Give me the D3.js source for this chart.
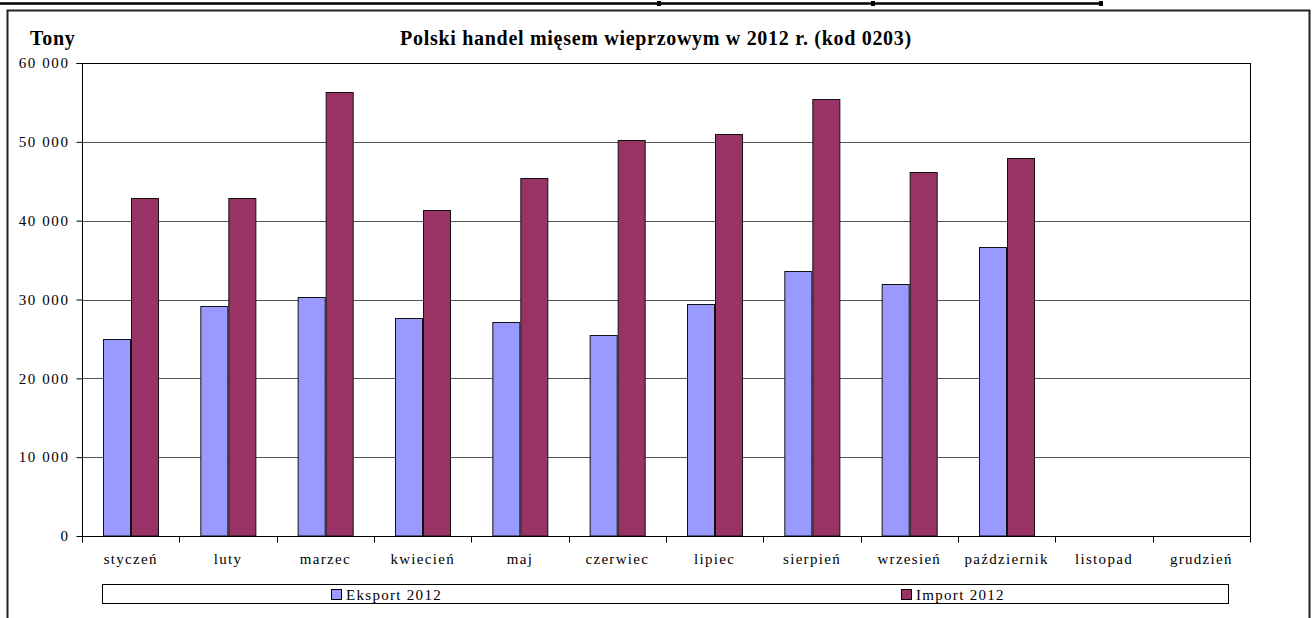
<!DOCTYPE html>
<html><head><meta charset="utf-8">
<script src="https://cdn.jsdelivr.net/npm/d3@7"></script>
<style>body{margin:0;background:#fff}svg{display:block}svg text{font-family:'Liberation Serif','Times New Roman',serif}</style>
</head><body>
<script>
const months = ["styczeń","luty","marzec","kwiecień","maj","czerwiec","lipiec","sierpień","wrzesień","październik","listopad","grudzień"];
const eksport = [25000, 29200, 30350, 27700, 27150, 25500, 29400, 33600, 32000, 36600, null, null];
const importV = [42900, 42900, 56350, 41400, 45400, 50250, 50950, 55400, 46200, 48000, null, null];
const seriesNames = ["Eksport 2012", "Import 2012"];
const seriesColors = ["#9999FF", "#993366"];
const yTicks = [0, 10000, 20000, 30000, 40000, 50000, 60000];
const title = "Polski handel mięsem wieprzowym w 2012 r. (kod 0203)";
const yTitle = "Tony";

const W = 1312, H = 618;
const FF = "'Liberation Serif','Times New Roman',serif";
const svg = d3.select("body").append("svg").attr("width", W).attr("height", H);

// decorative top line
svg.append("line").attr("x1", 0).attr("x2", 1102).attr("y1", 3.5).attr("y2", 3.5)
  .attr("stroke", "#000").attr("stroke-width", 2.5);
[659, 873, 1101].forEach(x => svg.append("rect").attr("x", x - 2).attr("y", 1).attr("width", 4).attr("height", 5).attr("fill", "#000"));

// outer chart frame
svg.append("path").attr("d", `M7.5,${H+2} V10.5 H1309.5 V${H+2}`)
  .attr("fill", "none").attr("stroke", "#222").attr("stroke-width", 2);

const m = {l: 82, r: 1250, t: 63, b: 536};
const x = d3.scaleBand().domain(months).range([m.l, m.r]).paddingInner(0).paddingOuter(0);
const xs = d3.scaleBand().domain(seriesNames).range([0, x.bandwidth()]).paddingInner(0).paddingOuter(0.77);
const y = d3.scaleLinear().domain([0, 60000]).range([m.b, m.t]);

// gridlines
svg.append("g").selectAll("line").data(yTicks.filter(d => d > 0)).join("line")
  .attr("x1", m.l).attr("x2", m.r)
  .attr("y1", d => Math.round(y(d)) + 0.5).attr("y2", d => Math.round(y(d)) + 0.5)
  .attr("stroke", d => d === 60000 ? "#000" : "#555").attr("stroke-width", 1);

// plot frame right
svg.append("line").attr("x1", m.r + 0.5).attr("x2", m.r + 0.5).attr("y1", m.t).attr("y2", m.b)
  .attr("stroke", "#000");

// bars
const data = months.map((mo, i) => ({mo, vals: [eksport[i], importV[i]]}));
const grp = svg.append("g").selectAll("g").data(data).join("g")
  .attr("transform", d => `translate(${x(d.mo)},0)`);
grp.selectAll("rect").data(d => d.vals.map((v, j) => ({v, s: seriesNames[j], c: seriesColors[j]})).filter(e => e.v != null))
  .join("rect")
  .attr("x", e => Math.round(xs(e.s)) + 0.5)
  .attr("width", Math.round(xs.bandwidth()))
  .attr("y", e => Math.round(y(e.v)) + 0.5)
  .attr("height", e => m.b - Math.round(y(e.v)) - 0.5)
  .attr("fill", e => e.c).attr("stroke", "#111").attr("stroke-width", 1);

// y axis
const yAxis = d3.axisLeft(y).tickValues(yTicks).tickSize(6).tickPadding(7)
  .tickFormat(d => d === 0 ? "0" : (d / 1000) + " 000");
const gy = svg.append("g").attr("transform", `translate(${m.l + 0.5},0)`).call(yAxis);
gy.attr("font-family", FF).attr("font-size", 15);
gy.select(".domain").attr("stroke", "#000").attr("d", `M-6,${m.t + 0.5}H0V${m.b + 0.5}`);
gy.selectAll(".tick text").attr("fill", "#000").attr("letter-spacing", 1.6);
gy.selectAll(".tick line").attr("stroke", "#000");

// x axis
const gx = svg.append("g").attr("transform", `translate(0,${m.b + 0.5})`);
gx.append("line").attr("x1", m.l).attr("x2", m.r + 1).attr("stroke", "#000");
gx.selectAll(".tk").data(months.concat(["_end"])).join("line").attr("class", "tk")
  .attr("x1", (d, i) => Math.round(m.l + i * x.bandwidth()) + 0.5)
  .attr("x2", (d, i) => Math.round(m.l + i * x.bandwidth()) + 0.5)
  .attr("y1", 0).attr("y2", 6).attr("stroke", "#000");
gx.selectAll("text").data(months).join("text")
  .attr("x", d => x(d) + x.bandwidth() / 2).attr("y", 27)
  .attr("text-anchor", "middle").attr("font-size", 15).attr("letter-spacing", 1.3)
  .attr("fill", "#000").text(d => d);

// titles
svg.append("text").attr("x", 656).attr("y", 45).attr("text-anchor", "middle")
  .attr("font-size", 20).attr("font-weight", "bold").attr("letter-spacing", 0.7).text(title);
svg.append("text").attr("x", 30).attr("y", 45)
  .attr("font-size", 20).attr("font-weight", "bold").attr("letter-spacing", 0.7).text(yTitle);

// legend
svg.append("rect").attr("x", 102.5).attr("y", 584.5).attr("width", 1126).attr("height", 19)
  .attr("fill", "#fff").attr("stroke", "#000");
const legX = [331, 901];
seriesNames.forEach((s, i) => {
  svg.append("rect").attr("x", legX[i] + 0.5).attr("y", 589.5).attr("width", 10).attr("height", 10)
    .attr("fill", seriesColors[i]).attr("stroke", "#000");
  svg.append("text").attr("x", legX[i] + 15).attr("y", 600).attr("font-size", 15)
    .attr("letter-spacing", 1.3).text(s);
});
</script>
</body></html>
